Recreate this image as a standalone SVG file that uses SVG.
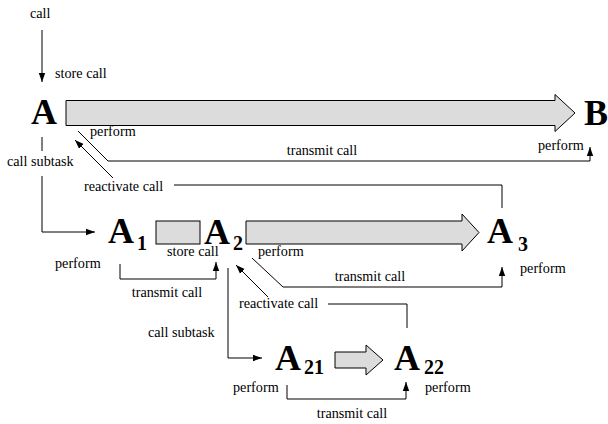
<svg xmlns="http://www.w3.org/2000/svg" width="608" height="424" viewBox="0 0 608 424">
<defs>
<marker id="ah" markerUnits="userSpaceOnUse" markerWidth="10" markerHeight="8" refX="9" refY="4" orient="auto">
<path d="M0,0.8 L9,4 L0,7.2 Z" fill="#000"/>
</marker>
</defs>
<style>
.t{font-family:"Liberation Serif","Times New Roman",serif;font-size:14.2px;fill:#000}
.n{font-family:"Liberation Serif","Times New Roman",serif;font-weight:bold;font-size:36px;fill:#000}
.s{font-family:"Liberation Serif","Times New Roman",serif;font-weight:bold;font-size:20px;fill:#000}
.c{fill:none;stroke:#000;stroke-width:1}
.a{fill:#dcdcdc;stroke:#000;stroke-width:1}
</style>
<rect width="608" height="424" fill="#fff"/>
<g id="flows">
<polygon class="a" points="66,100.5 555,100.5 555,94.5 575,113 555,131.5 555,125.5 66,125.5"/>
<rect class="a" x="156" y="221" width="44" height="23"/>
<polygon class="a" points="246,221 462,221 462,214 479,232.5 462,251 462,244 246,244"/>
<polygon class="a" points="335,352 366,352 366,345 383,360 366,375 366,368 335,368"/>
</g>
<g id="connectors">
<line class="c" x1="42" y1="30" x2="42" y2="82" marker-end="url(#ah)"/>
<polyline class="c" points="78,131 108,161 590,161 590,147" marker-end="url(#ah)"/>
<polyline class="c" points="502,208 502,185 174,185"/>
<line class="c" x1="113" y1="178" x2="75" y2="140" marker-end="url(#ah)"/>
<line class="c" x1="42" y1="137" x2="42" y2="151"/>
<polyline class="c" points="42,176 42,232 95,232" marker-end="url(#ah)"/>
<polyline class="c" points="120,264 120,279 216,279 216,262" marker-end="url(#ah)"/>
<polyline class="c" points="252,258 283,287 502,287 502,267" marker-end="url(#ah)"/>
<polyline class="c" points="407,328 407,304 328,304"/>
<line class="c" x1="268" y1="297" x2="236" y2="265" marker-end="url(#ah)"/>
<polyline class="c" points="228,268 228,358 262,358" marker-end="url(#ah)"/>
<polyline class="c" points="287,385 287,399 406,399 406,382" marker-end="url(#ah)"/>
</g>
<g id="labels">
<text class="t" x="30" y="18">call</text>
<text class="t" x="55" y="78">store call</text>
<text class="t" x="90" y="136">perform</text>
<text class="t" x="322" y="155" text-anchor="middle">transmit call</text>
<text class="t" x="538" y="150">perform</text>
<text class="t" x="84" y="191">reactivate call</text>
<text class="t" x="7" y="166">call subtask</text>
<text class="t" x="167" y="256">store call</text>
<text class="t" x="258" y="256">perform</text>
<text class="t" x="55" y="268">perform</text>
<text class="t" x="167" y="297" text-anchor="middle">transmit call</text>
<text class="t" x="370" y="281" text-anchor="middle">transmit call</text>
<text class="t" x="520" y="273">perform</text>
<text class="t" x="239" y="308">reactivate call</text>
<text class="t" x="148" y="337">call subtask</text>
<text class="t" x="233" y="392">perform</text>
<text class="t" x="425" y="392">perform</text>
<text class="t" x="352" y="418" text-anchor="middle">transmit call</text>
</g>
<g id="node-A"><text class="n" x="31" y="124">A</text></g>
<g id="node-B"><text class="n" x="584" y="125">B</text></g>
<g id="node-A1"><text class="n" x="108" y="243">A</text><text class="s" x="137" y="250">1</text></g>
<g id="node-A2"><text class="n" x="204" y="244">A</text><text class="s" x="233" y="250">2</text></g>
<g id="node-A3"><text class="n" x="487" y="243">A</text><text class="s" x="518" y="251">3</text></g>
<g id="node-A21"><text class="n" x="275" y="370">A</text><text class="s" x="304" y="374">21</text></g>
<g id="node-A22"><text class="n" x="394" y="370">A</text><text class="s" x="424" y="374">22</text></g>
</svg>
